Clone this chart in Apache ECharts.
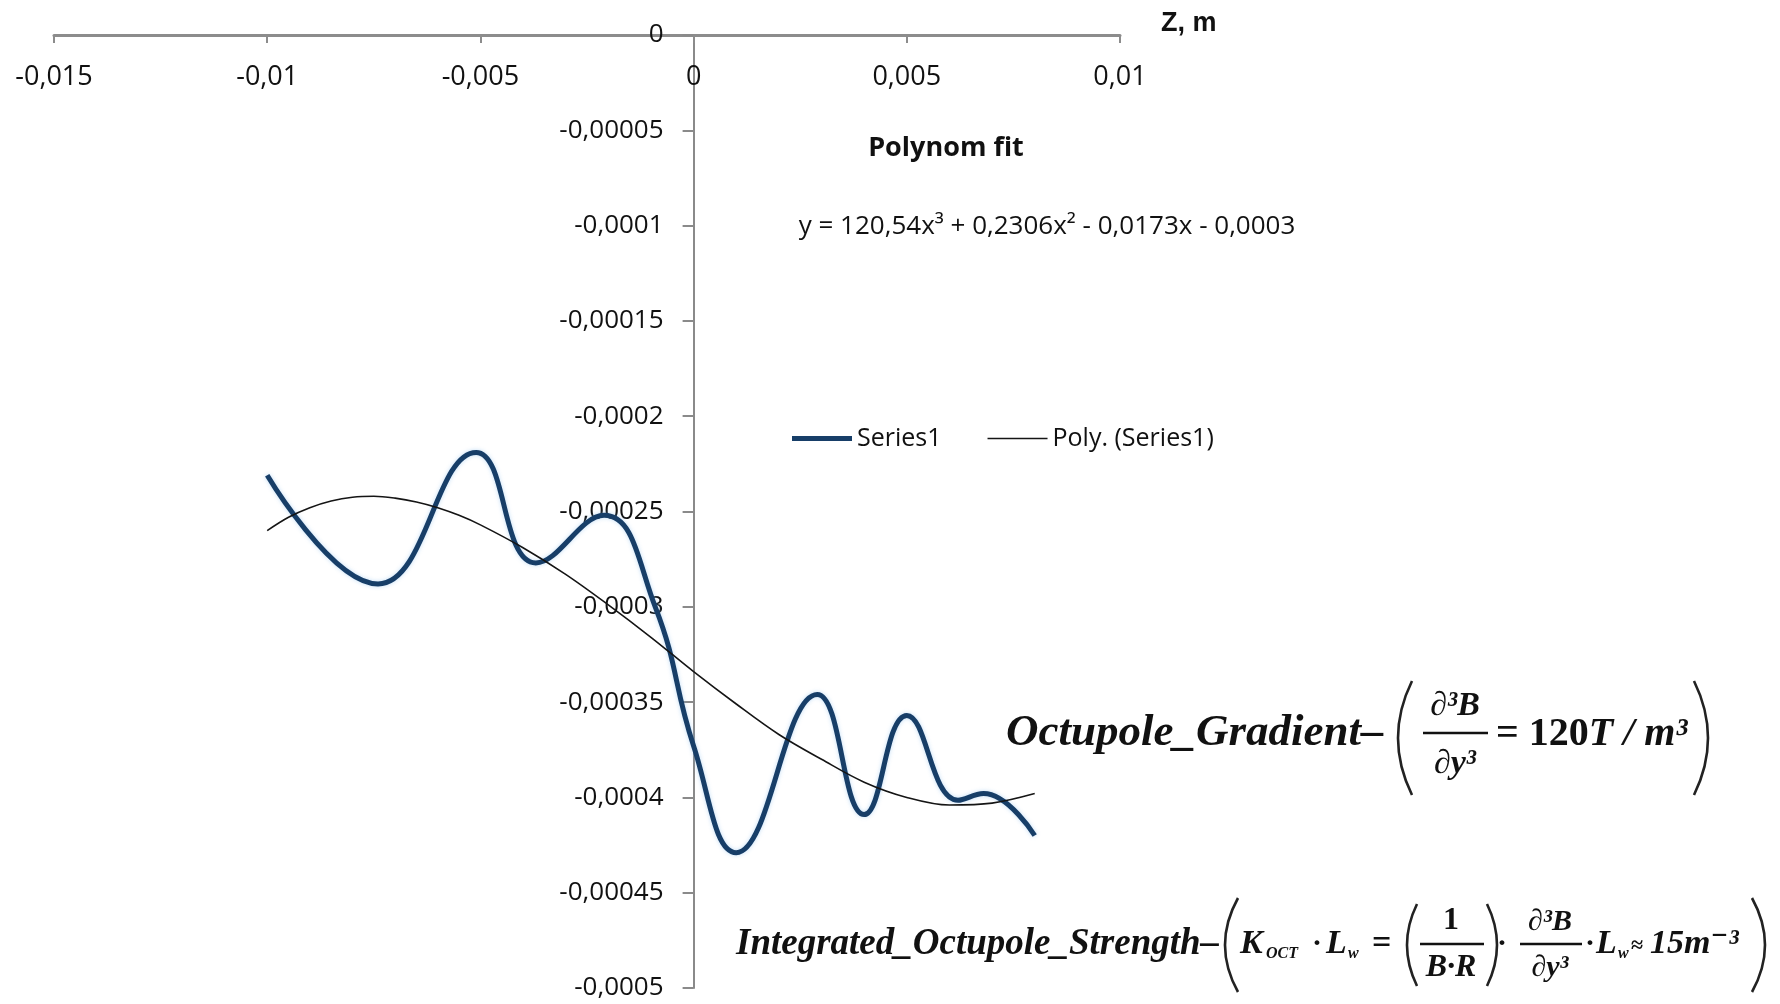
<!DOCTYPE html>
<html>
<head>
<meta charset="utf-8">
<title>Octupole gradient – polynom fit</title>
<script src="https://cdn.jsdelivr.net/npm/echarts@6/dist/echarts.min.js"></script>
<style>
  html, body { margin: 0; padding: 0; background: #ffffff; }
  #chart { width: 1780px; height: 1004px; }
</style>
</head>
<body>
<div id="chart"></div>
<script>
// Measured field along Z (m) – Series1
const series1Z = [-0.0100, -0.0074, -0.0051, -0.0037, -0.0021, -0.0009, 0.0000, 0.0010, 0.0029, 0.0040, 0.0050, 0.0062, 0.0068, 0.0080];
const series1Values = [-0.000231, -0.000288, -0.000219, -0.000277, -0.000252, -0.000300, -0.000373, -0.000429, -0.000346, -0.000409, -0.000357, -0.0004015, -0.000398, -0.000420];

// Cubic trend of Series1
const polyZ = [-0.0100, -0.0095, -0.0090, -0.0085, -0.0080, -0.0075, -0.0070, -0.0065, -0.0060, -0.0055, -0.0050, -0.004, -0.003, -0.002, -0.001, 0.000, 0.001, 0.002, 0.003, 0.004, 0.005, 0.006, 0.007, 0.008];
const polyValues = [-0.000260, -0.000253, -0.000248, -0.0002445, -0.0002425, -0.000242, -0.000243, -0.000245, -0.000248, -0.000252, -0.000257, -0.000269, -0.000283, -0.000299, -0.000316, -0.000334, -0.000351, -0.000367, -0.000380, -0.000392, -0.000400, -0.000404, -0.000403, -0.000398];

// Axis tick values
const zTicks = [-0.015, -0.01, -0.005, 0, 0.005, 0.01];
const fieldTicks = [0, -0.00005, -0.0001, -0.00015, -0.0002, -0.00025, -0.0003, -0.00035, -0.0004, -0.00045, -0.0005];

const seriesNames = ['Series1', 'Poly. (Series1)'];
const fitTitle = 'Polynom fit';
const fitEquation = 'y = 120,54x³ + 0,2306x² - 0,0173x - 0,0003';

const pairs = (xs, ys) => xs.map((x, i) => [x, ys[i]]);
const commaNum = (v, digits) => {
  if (Math.abs(v) < 1e-12) return '0';
  return String(+v.toFixed(digits)).replace('.', ',');
};

const labelFont = '"Open Sans", "Noto Sans", sans-serif';
const mathFont = '"Liberation Serif", "DejaVu Serif", serif';
const ink = '#111111';

// Plot area and the offset that puts the vertical axis on Z = 0
const W = 1780, H = 1004;
const gridBox = { left: 54, right: 660, top: 35, bottom: 16 };
const zMin = zTicks[0], zMax = zTicks[zTicks.length - 1];
const gridWidth = W - gridBox.left - gridBox.right;
const yAxisOffset = -((0 - zMin) / (zMax - zMin)) * gridWidth;

// --- formula helpers (graphic elements) ---
function txt(x, y, text, size, align) {
  return {
    type: 'text', x: x, y: y, silent: true,
    style: {
      text: text,
      font: 'italic bold ' + size + 'px ' + mathFont,
      fill: ink, align: align || 'left', verticalAlign: 'middle'
    }
  };
}
function upright(x, y, text, size, align) {
  return {
    type: 'text', x: x, y: y, silent: true,
    style: { text: text, font: 'bold ' + size + 'px ' + mathFont, fill: ink, align: align || 'left', verticalAlign: 'middle' }
  };
}
function bar(x1, x2, y) {
  return { type: 'line', silent: true, shape: { x1: x1, y1: y, x2: x2, y2: y }, style: { stroke: ink, lineWidth: 2.5 } };
}
function paren(xEnd, yTop, yBot, xCtrl) {
  return {
    type: 'bezierCurve', silent: true,
    shape: { x1: xEnd, y1: yTop, x2: xEnd, y2: yBot, cpx1: xCtrl, cpy1: (yTop + yBot) / 2 },
    style: { stroke: '#222', lineWidth: 2.6, fill: null }
  };
}

const formulaElements = [
  // Octupole gradient
  txt(1006, 733, 'Octupole_Gradient–', 45),
  paren(1412, 681, 795, 1384),
  txt(1455, 706, '∂³B', 34, 'center'),
  bar(1423, 1488, 733),
  txt(1455, 764, '∂y³', 34, 'center'),
  {
    type: 'text', x: 1496, y: 735, silent: true,
    style: {
      text: '{u|= 120}{i|T / m³}', align: 'left', verticalAlign: 'middle',
      rich: {
        u: { font: 'bold 40px ' + mathFont, fill: ink },
        i: { font: 'italic bold 40px ' + mathFont, fill: ink }
      }
    }
  },
  paren(1694, 681, 795, 1722),

  // Integrated octupole strength
  txt(736, 944, 'Integrated_Octupole_Strength–', 37),
  paren(1238, 898, 992, 1212),
  txt(1240, 944, 'K', 34),
  txt(1266, 954, 'OCT', 16),
  upright(1312, 944, '·', 30),
  txt(1326, 944, 'L', 34),
  txt(1348, 954, 'w', 16),
  upright(1372, 944, '=', 34),
  paren(1417, 904, 986, 1397),
  upright(1451, 921, '1', 32, 'center'),
  bar(1420, 1484, 944),
  txt(1451, 968, 'B·R', 32, 'center'),
  paren(1487, 904, 986, 1507),
  upright(1497, 944, '·', 30),
  txt(1550, 922, '∂³B', 30, 'center'),
  bar(1520, 1582, 944),
  txt(1550, 968, '∂y³', 30, 'center'),
  upright(1585, 944, '·', 30),
  txt(1596, 944, 'L', 34),
  txt(1618, 954, 'w', 16),
  upright(1631, 946, '≈', 22),
  txt(1650, 944, '15m⁻³', 34),
  paren(1752, 898, 992, 1778)
];

// Legend glyphs: a horizontal stroke centred in a 60×20 box
const legendStroke = t => 'path://M0,0L0.01,0M0,20L0.01,20M0,' + (10 - t / 2) + 'H60V' + (10 + t / 2) + 'H0Z';

const chart = echarts.init(document.getElementById('chart'), null, { renderer: 'canvas' });

chart.setOption({
  backgroundColor: '#ffffff',
  animation: false,
  grid: Object.assign({ containLabel: false, outerBoundsMode: 'none' }, gridBox),
  title: [
    {
      text: fitTitle, left: 941, top: 143, textAlign: 'center', textVerticalAlign: 'middle',
      textStyle: { fontFamily: labelFont, fontWeight: 'bold', fontSize: 27, color: ink }
    },
    {
      text: fitEquation, left: 1042, top: 222, textAlign: 'center', textVerticalAlign: 'middle',
      textStyle: { fontFamily: labelFont, fontWeight: 'normal', fontSize: 26, color: ink }
    }
  ],
  legend: {
    data: [
      { name: seriesNames[0], icon: legendStroke(5) },
      { name: seriesNames[1], icon: legendStroke(1.6) }
    ],
    left: 787, top: 421,
    itemWidth: 60, itemHeight: 20, itemGap: 46,
    textStyle: { fontFamily: labelFont, fontSize: 25, color: ink }
  },
  xAxis: {
    type: 'value',
    position: 'top',
    min: zMin, max: zMax, interval: 0.005,
    name: 'Z, m', nameLocation: 'end', nameGap: 41,
    nameTextStyle: {
      fontFamily: '"Liberation Sans", Arial, sans-serif', fontWeight: 'bold', fontSize: 27, color: ink,
      verticalAlign: 'bottom', lineHeight: 22
    },
    axisLine: { onZero: false, lineStyle: { color: '#8c8c8c', width: 3 } },
    axisTick: { show: true, inside: true, length: 8, lineStyle: { color: '#8c8c8c', width: 2 } },
    axisLabel: {
      inside: true, margin: 29,
      fontFamily: labelFont, fontSize: 27, color: ink,
      formatter: v => commaNum(v, 6)
    },
    splitLine: { show: false }
  },
  yAxis: {
    type: 'value',
    position: 'left',
    offset: yAxisOffset,
    min: fieldTicks[fieldTicks.length - 1], max: fieldTicks[0], interval: 0.00005,
    axisLine: { onZero: false, lineStyle: { color: '#8a8a8a', width: 2 } },
    axisTick: { show: true, inside: false, length: 11, lineStyle: { color: '#8a8a8a', width: 2 } },
    axisLabel: {
      margin: 30,
      fontFamily: labelFont, fontSize: 26, color: ink,
      formatter: v => commaNum(v, 8)
    },
    splitLine: { show: false }
  },
  series: [
    {
      name: seriesNames[0],
      type: 'line',
      data: pairs(series1Z, series1Values),
      smooth: 0.45,
      symbol: 'none',
      lineStyle: { color: '#173e68', width: 5, shadowColor: 'rgba(120,180,235,0.45)', shadowBlur: 4 },
      itemStyle: { color: '#173e68' },
      z: 3
    },
    {
      name: seriesNames[1],
      type: 'line',
      data: pairs(polyZ, polyValues),
      smooth: 0.35,
      symbol: 'none',
      lineStyle: { color: '#151515', width: 1.6 },
      itemStyle: { color: '#151515' },
      z: 4
    }
  ],
  graphic: { elements: formulaElements }
});
</script>
</body>
</html>
